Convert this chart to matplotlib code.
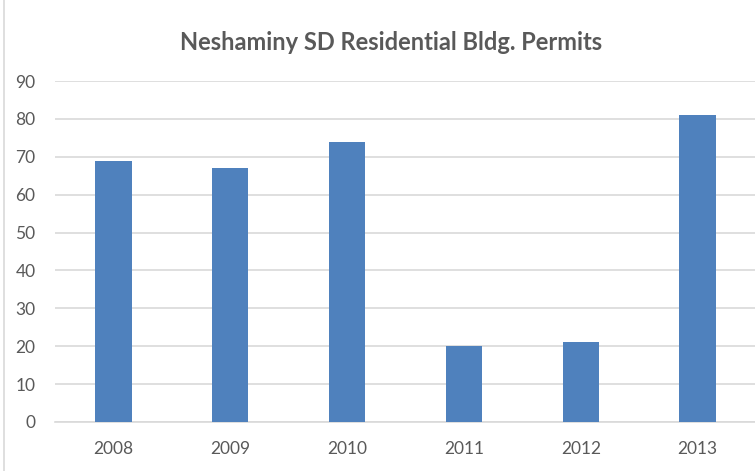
import matplotlib.pyplot as plt
from matplotlib.patches import Rectangle

years = ['2008', '2009', '2010', '2011', '2012', '2013']
permits = [69, 67, 74, 20, 21, 81]

plt.rcParams['font.family'] = ['Lato', 'DejaVu Sans']

fig = plt.figure(figsize=(7.55, 4.71), dpi=100)
ax = fig.add_axes([55 / 755, 49 / 471, 701 / 755, 341 / 471])

ax.bar(range(len(years)), permits, width=0.31, color='#4f81bd', zorder=3)

ax.set_xlim(-0.5, len(years) - 0.5)
ax.set_ylim(0, 90)
ax.set_yticks(range(0, 91, 10))
ax.set_xticks(range(len(years)))
ax.set_xticklabels(years)
ax.grid(axis='y', color='#d9d9d9', linewidth=1.2, zorder=0)
for s in ['top', 'right', 'left']:
    ax.spines[s].set_visible(False)
ax.spines['bottom'].set_color('#d9d9d9')
ax.spines['bottom'].set_linewidth(1.2)
ax.tick_params(length=0, labelsize=12.5, colors='#595959')
ax.tick_params(axis='x', pad=14)
ax.tick_params(axis='y', pad=14)

fig.text(391 / 755, 1 - 42 / 471, 'Neshaminy SD Residential Bldg. Permits',
         ha='center', va='center', fontsize=17, fontweight='bold', color='#595959')

# outer chart border
fig.patches.append(Rectangle((4 / 755, -0.01), 1.0, 1.02, transform=fig.transFigure,
                             fill=False, edgecolor='#d9d9d9', linewidth=1.2))

fig.savefig('out.png', dpi=100)
